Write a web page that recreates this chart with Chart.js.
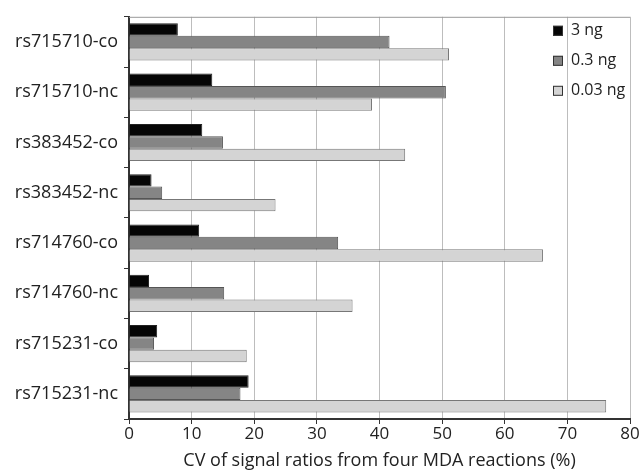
<!DOCTYPE html>
<html>
<head>
<meta charset="utf-8">
<script src="https://cdn.jsdelivr.net/npm/chart.js@4/dist/chart.umd.min.js"></script>
<style>
  html, body { margin: 0; padding: 0; background: #fff; }
  #wrap { width: 641px; height: 472px; }
</style>
</head>
<body>
<div id="wrap"><canvas id="cvChart"></canvas></div>
<script>
const snps = ['rs715710-co', 'rs715710-nc', 'rs383452-co', 'rs383452-nc',
              'rs714760-co', 'rs714760-nc', 'rs715231-co', 'rs715231-nc'];
const cv3ng   = [7.8, 13.3, 11.7, 3.6, 11.2, 3.2, 4.5, 19.1];
const cv03ng  = [41.6, 50.6, 15.0, 5.3, 33.4, 15.2, 4.0, 17.8];
const cv003ng = [51.1, 38.8, 44.1, 23.4, 66.1, 35.7, 18.8, 76.2];
const seriesNames = ['3 ng', '0.3 ng', '0.03 ng'];
const xTitle = 'CV of signal ratios from four MDA reactions (%)';

const fontFam = '"Open Sans", "DejaVu Sans", sans-serif';
const txt = '#222';

// legend drawn inside the plot, top right
const boxLegend = {
  id: 'boxLegend',
  afterDraw(chart) {
    const c = chart.ctx;
    const a = chart.chartArea;
    c.save();
    c.font = '16px ' + fontFam;
    c.textBaseline = 'middle';
    chart.data.datasets.forEach((ds, i) => {
      const y = a.top + 14 + i * 30;
      const x = a.right - 77;
      c.fillStyle = ds.backgroundColor;
      c.fillRect(x, y - 5, 10, 10);
      c.strokeStyle = '#333';
      c.lineWidth = 1;
      c.strokeRect(x + 0.5, y - 4.5, 9, 9);
      c.fillStyle = txt;
      c.fillText(ds.label, x + 18, y);
    });
    c.restore();
  }
};

const ctx = document.getElementById('cvChart');
const myChart = new Chart(ctx, {
  type: 'bar',
  data: {
    labels: snps,
    datasets: [
      { label: seriesNames[0], data: cv3ng,   backgroundColor: '#050505', borderColor: '#222', borderWidth: 1 },
      { label: seriesNames[1], data: cv03ng,  backgroundColor: '#858585', borderColor: '#555', borderWidth: 1 },
      { label: seriesNames[2], data: cv003ng, backgroundColor: '#d4d4d4', borderColor: '#777', borderWidth: 1 }
    ]
  },
  options: {
    indexAxis: 'y',
    responsive: true,
    maintainAspectRatio: false,
    animation: false,
    layout: { padding: { top: 14, right: 11, left: 0, bottom: 0 } },
    datasets: { bar: { categoryPercentage: 0.74, barPercentage: 1.0 } },
    plugins: {
      legend: { display: false },
      tooltip: { enabled: false }
    },
    scales: {
      x: {
        min: 0, max: 80,
        ticks: { stepSize: 10, color: txt, font: { family: fontFam, size: 17 }, padding: 0 },
        grid: { color: '#bdbdbd', lineWidth: 1, tickLength: 5, tickColor: '#333', drawTicks: true },
        border: { color: '#333', width: 2 },
        title: { display: true, text: xTitle, color: txt, font: { family: fontFam, size: 18 }, padding: { top: 6, bottom: 0 } }
      },
      y: {
        ticks: { color: txt, font: { family: fontFam, size: 18 }, padding: 6 },
        grid: { offset: true, drawOnChartArea: false, tickLength: 5, tickColor: '#333' },
        border: { color: '#333', width: 2 },
        afterFit(scale) { scale.width = 129; }
      }
    }
  },
  plugins: [boxLegend, {
    id: 'frame',
    afterDraw(chart) {
      const c = chart.ctx, a = chart.chartArea;
      c.save();
      c.strokeStyle = '#999';
      c.lineWidth = 1;
      c.beginPath();
      c.moveTo(a.left, a.top + 0.5);
      c.lineTo(a.right, a.top + 0.5);
      c.stroke();
      c.restore();
    }
  }]
});
</script>
</body>
</html>
